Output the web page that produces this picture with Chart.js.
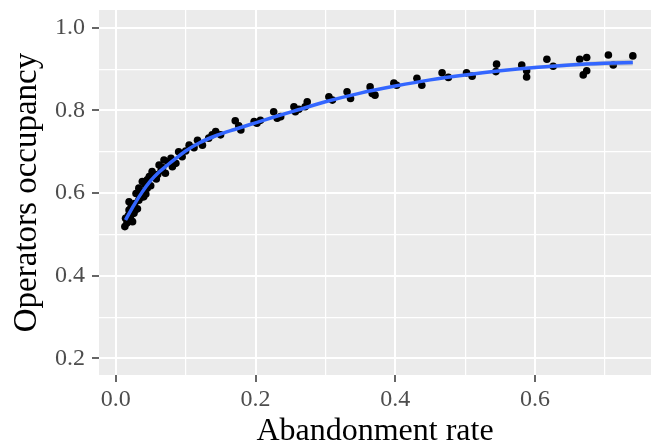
<!DOCTYPE html>
<html>
<head>
<meta charset="utf-8">
<script src="https://cdn.jsdelivr.net/npm/chart.js@4/dist/chart.umd.min.js"></script>
<style>
  html, body { margin: 0; padding: 0; background: #ffffff; }
  #wrap { width: 651px; height: 443px; }
</style>
</head>
<body>
<div id="wrap"><canvas id="occupancyChart" width="651" height="443"></canvas></div>
<script>
// observed points (abandonment rate, operators occupancy)
const pointX = [0.013, 0.014, 0.016, 0.018, 0.019, 0.021, 0.022, 0.024, 0.026, 0.027,
    0.019, 0.029, 0.031, 0.033, 0.033, 0.036, 0.038, 0.040, 0.042, 0.045,
    0.045, 0.048, 0.050, 0.052, 0.055, 0.058, 0.062, 0.065, 0.069, 0.071,
    0.075, 0.079, 0.081, 0.086, 0.090, 0.095, 0.100, 0.105, 0.112, 0.117,
    0.124, 0.133, 0.138, 0.143, 0.150, 0.171, 0.179, 0.176, 0.198, 0.202,
    0.207, 0.226, 0.231, 0.236, 0.255, 0.257, 0.262, 0.271, 0.274, 0.305,
    0.310, 0.331, 0.336, 0.364, 0.367, 0.371, 0.398, 0.402, 0.431, 0.438,
    0.467, 0.476, 0.502, 0.510, 0.544, 0.545, 0.581, 0.588, 0.588, 0.617,
    0.626, 0.664, 0.674, 0.674, 0.669, 0.705, 0.712, 0.740,
    0.017, 0.023, 0.028, 0.035, 0.043, 0.060, 0.067];
const pointY = [0.519, 0.539, 0.528, 0.546, 0.559, 0.538, 0.566, 0.531, 0.551, 0.575,
    0.579, 0.599, 0.562, 0.612, 0.583, 0.590, 0.628, 0.591, 0.620, 0.632,
    0.612, 0.640, 0.618, 0.652, 0.644, 0.634, 0.668, 0.655, 0.680, 0.648,
    0.676, 0.684, 0.664, 0.672, 0.700, 0.688, 0.702, 0.716, 0.710, 0.728,
    0.716, 0.733, 0.741, 0.749, 0.741, 0.775, 0.753, 0.763, 0.773, 0.769,
    0.776, 0.797, 0.781, 0.785, 0.809, 0.797, 0.803, 0.809, 0.821, 0.833,
    0.825, 0.845, 0.829, 0.857, 0.841, 0.837, 0.866, 0.861, 0.878, 0.861,
    0.891, 0.880, 0.891, 0.883, 0.894, 0.912, 0.910, 0.896, 0.881, 0.924,
    0.907, 0.924, 0.928, 0.896, 0.886, 0.934, 0.910, 0.932,
    0.535, 0.555, 0.560, 0.605, 0.598, 0.645, 0.662];

// smoothed fit and its confidence band
const fitX = [0.014, 0.026, 0.038, 0.05, 0.062, 0.074, 0.086, 0.10, 0.12, 0.145, 0.17, 0.20,
    0.23, 0.26, 0.30, 0.35, 0.40, 0.45, 0.50, 0.55, 0.60, 0.65, 0.70, 0.74];
const fitY = [0.535, 0.571, 0.603, 0.630, 0.651, 0.668, 0.684, 0.702, 0.722, 0.740, 0.754, 0.770,
    0.786, 0.801, 0.821, 0.842, 0.859, 0.874, 0.886, 0.896, 0.904, 0.910, 0.914, 0.916];
const bandLow = [0.530, 0.568, 0.601, 0.628, 0.649, 0.666, 0.682, 0.700, 0.720, 0.738, 0.752, 0.768,
    0.784, 0.799, 0.819, 0.840, 0.857, 0.872, 0.883, 0.893, 0.900, 0.905, 0.908, 0.909];
const bandHigh = [0.540, 0.574, 0.605, 0.632, 0.653, 0.670, 0.686, 0.704, 0.724, 0.742, 0.756, 0.772,
    0.788, 0.803, 0.823, 0.844, 0.861, 0.876, 0.889, 0.899, 0.908, 0.915, 0.920, 0.923];

const xMajor = [0, 0.2, 0.4, 0.6];
const xMinor = [0.1, 0.3, 0.5, 0.7];
const yMajor = [0.2, 0.4, 0.6, 0.8, 1.0];
const yMinor = [0.3, 0.5, 0.7, 0.9];

const serif = "'Liberation Serif', 'DejaVu Serif', serif";

function toXY(xs, ys) {
    return xs.map((x, i) => ({ x: x, y: ys[i] }));
}

function isMajor(list, v) {
    return list.some(m => Math.abs(m - v) < 1e-9);
}

function setTicks(major, minor) {
    return function(scale) {
        const all = major.concat(minor).sort((a, b) => a - b);
        scale.ticks = all.map(v => ({ value: v }));
    };
}

const panelBackground = {
    id: 'panelBackground',
    beforeDraw(chart) {
        const ctx = chart.ctx;
        const a = chart.chartArea;
        ctx.save();
        ctx.fillStyle = '#ffffff';
        ctx.fillRect(0, 0, chart.width, chart.height);
        ctx.fillStyle = '#EBEBEB';
        ctx.fillRect(a.left, a.top, a.right - a.left, a.bottom - a.top);
        ctx.restore();
    }
};

function gridFor(major) {
    return {
        color: '#ffffff',
        lineWidth: c => isMajor(major, c.tick.value) ? 2 : 1.2,
        drawTicks: true,
        tickLength: 7,
        tickWidth: 1.5,
        tickColor: c => isMajor(major, c.tick.value) ? '#333333' : 'rgba(0,0,0,0)'
    };
}

const ctx = document.getElementById('occupancyChart').getContext('2d');
const occupancyChart = new Chart(ctx, {
    type: 'scatter',
    data: {
        datasets: [
            {
                type: 'line',
                data: toXY(fitX, fitY),
                borderColor: '#3366FF',
                borderWidth: 3.5,
                pointRadius: 0,
                fill: false,
                cubicInterpolationMode: 'monotone'
            },
            {
                type: 'line',
                data: toXY(fitX, bandHigh),
                borderWidth: 0,
                pointRadius: 0,
                backgroundColor: 'rgba(153,153,153,0.4)',
                fill: '+1',
                cubicInterpolationMode: 'monotone'
            },
            {
                type: 'line',
                data: toXY(fitX, bandLow),
                borderWidth: 0,
                pointRadius: 0,
                fill: false,
                cubicInterpolationMode: 'monotone'
            },
            {
                data: toXY(pointX, pointY),
                pointRadius: 3.8,
                pointBorderWidth: 0,
                pointBackgroundColor: '#000000'
            }
        ]
    },
    options: {
        responsive: false,
        animation: false,
        layout: { autoPadding: false, padding: { top: 10, right: 0, left: 0, bottom: 0 } },
        plugins: {
            legend: { display: false },
            tooltip: { enabled: false }
        },
        scales: {
            x: {
                type: 'linear',
                min: -0.024,
                max: 0.766,
                afterBuildTicks: setTicks(xMajor, xMinor),
                afterFit: s => { s.height = 68; },
                border: { display: false },
                grid: gridFor(xMajor),
                ticks: {
                    padding: 6,
                    maxRotation: 0,
                    autoSkip: false,
                    color: '#4D4D4D',
                    font: { family: serif, size: 24, lineHeight: 1 },
                    callback: v => isMajor(xMajor, v) ? v.toFixed(1) : ''
                },
                title: {
                    display: true,
                    text: 'Abandonment rate',
                    color: '#000000',
                    font: { family: serif, size: 32, lineHeight: 0.7 },
                    padding: { top: 0, bottom: 0 }
                }
            },
            y: {
                type: 'linear',
                min: 0.16,
                max: 1.043,
                afterBuildTicks: setTicks(yMajor, yMinor),
                afterFit: s => { s.width = 99; },
                border: { display: false },
                grid: gridFor(yMajor),
                ticks: {
                    padding: 7,
                    autoSkip: false,
                    color: '#4D4D4D',
                    font: { family: serif, size: 24, lineHeight: 0.12 },
                    callback: v => isMajor(yMajor, v) ? v.toFixed(1) : ''
                },
                title: {
                    display: true,
                    text: 'Operators occupancy',
                    color: '#000000',
                    font: { family: serif, size: 33 },
                    padding: { top: 8, bottom: 0 }
                }
            }
        }
    },
    plugins: [panelBackground]
});
</script>
</body>
</html>
